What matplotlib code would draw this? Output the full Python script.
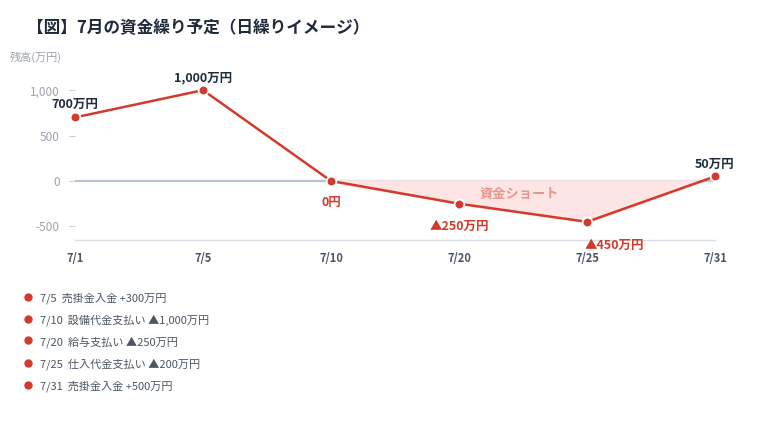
import matplotlib
matplotlib.use("Agg")
import matplotlib.pyplot as plt
from matplotlib.lines import Line2D
import numpy as np

plt.rcParams['font.family'] = ['Noto Sans CJK JP', 'DejaVu Sans']

# ---- data ----
dates = ['7/1', '7/5', '7/10', '7/20', '7/25', '7/31']
balance = [700, 1000, 0, -250, -450, 50]
point_labels = ['700万円', '1,000万円', '0円', '▲250万円', '▲450万円', '50万円']
yticks = [1000, 500, 0, -500]
ytick_labels = ['1,000', '500', '0', '-500']
events = [
    '7/5  売掛金入金 +300万円',
    '7/10  設備代金支払い ▲1,000万円',
    '7/20  給与支払い ▲250万円',
    '7/25  仕入代金支払い ▲200万円',
    '7/31  売掛金入金 +500万円',
]
title = '【図】7月の資金繰り予定（日繰りイメージ）'
ylabel = '残高(万円)'
short_label = '資金ショート'

# ---- style ----
RED = '#d23b2c'
NAVY = '#1f2b3b'
GREY = '#9ca3af'
DARK = '#4b5563'
PINK = '#fde5e5'

fig = plt.figure(figsize=(7.6, 4.4), dpi=100)
W, H = 760, 440
ax = fig.add_axes([75 / W, 1 - 240 / H, (715 - 75) / W, (240 - 72) / H])

x = np.arange(len(dates))
y = np.array(balance, dtype=float)

ax.set_xlim(0, len(dates) - 1)
ax.set_ylim(-650, 1200)

ax.axhline(0, color='#b9c3d1', lw=1.6, zorder=1)
ax.fill_between(x, y, 0, where=(y <= 0), interpolate=True,
                facecolor=PINK, edgecolor=PINK, lw=1.8, zorder=2)
ax.plot(x, y, color=RED, lw=1.8, zorder=3, clip_on=False,
        marker='o', ms=7, mfc=RED, mec='white', mew=1.3)

# point labels: (dx, dy) in pixels
offsets = [(0, 13), (0, 12.5), (0, -22), (0, -23), (27, -24), (0, 12.5)]
for i, lab in enumerate(point_labels):
    col = RED if y[i] <= 0 else NAVY
    ax.annotate(lab, (x[i], y[i]), xytext=offsets[i], textcoords='offset pixels',
                ha='center', va='center', fontsize=9, fontweight='bold',
                color=col, zorder=5, annotation_clip=False)

ax.text((519 - 75) / 128, -137, short_label, ha='center', va='center',
        fontsize=9.5, fontweight='bold', color='#e8948c', zorder=4)

# axes styling
for s in ['top', 'right', 'left']:
    ax.spines[s].set_visible(False)
ax.spines['bottom'].set_color('#d9dee6')
ax.spines['bottom'].set_linewidth(1)
ax.set_xticks(x)
ax.set_xticklabels(dates, fontsize=8, fontweight='bold', color=DARK)
ax.tick_params(axis='x', length=0, pad=9)
ax.set_yticks(yticks)
ax.set_yticklabels(ytick_labels, fontsize=8.5, color=GREY)
ax.tick_params(axis='y', length=4, color='#c8ced8', width=0.8, pad=7)

fig.text(27 / W, 1 - 28 / H, title, ha='left', va='center',
         fontsize=12, fontweight='bold', color=NAVY)
fig.text(10 / W, 1 - 57 / H, ylabel, ha='left', va='center',
         fontsize=8, color=GREY)

# event list
for k, ev in enumerate(events):
    yy = 1 - (298 + 22 * k) / H
    fig.add_artist(Line2D([28 / W], [yy + 1.5 / H], transform=fig.transFigure,
                          marker='o', ms=5, mfc=RED, mec=RED, lw=0))
    fig.text(40 / W, yy, ev, ha='left', va='center', fontsize=8, color=DARK)

fig.savefig('out.png', dpi=100)
